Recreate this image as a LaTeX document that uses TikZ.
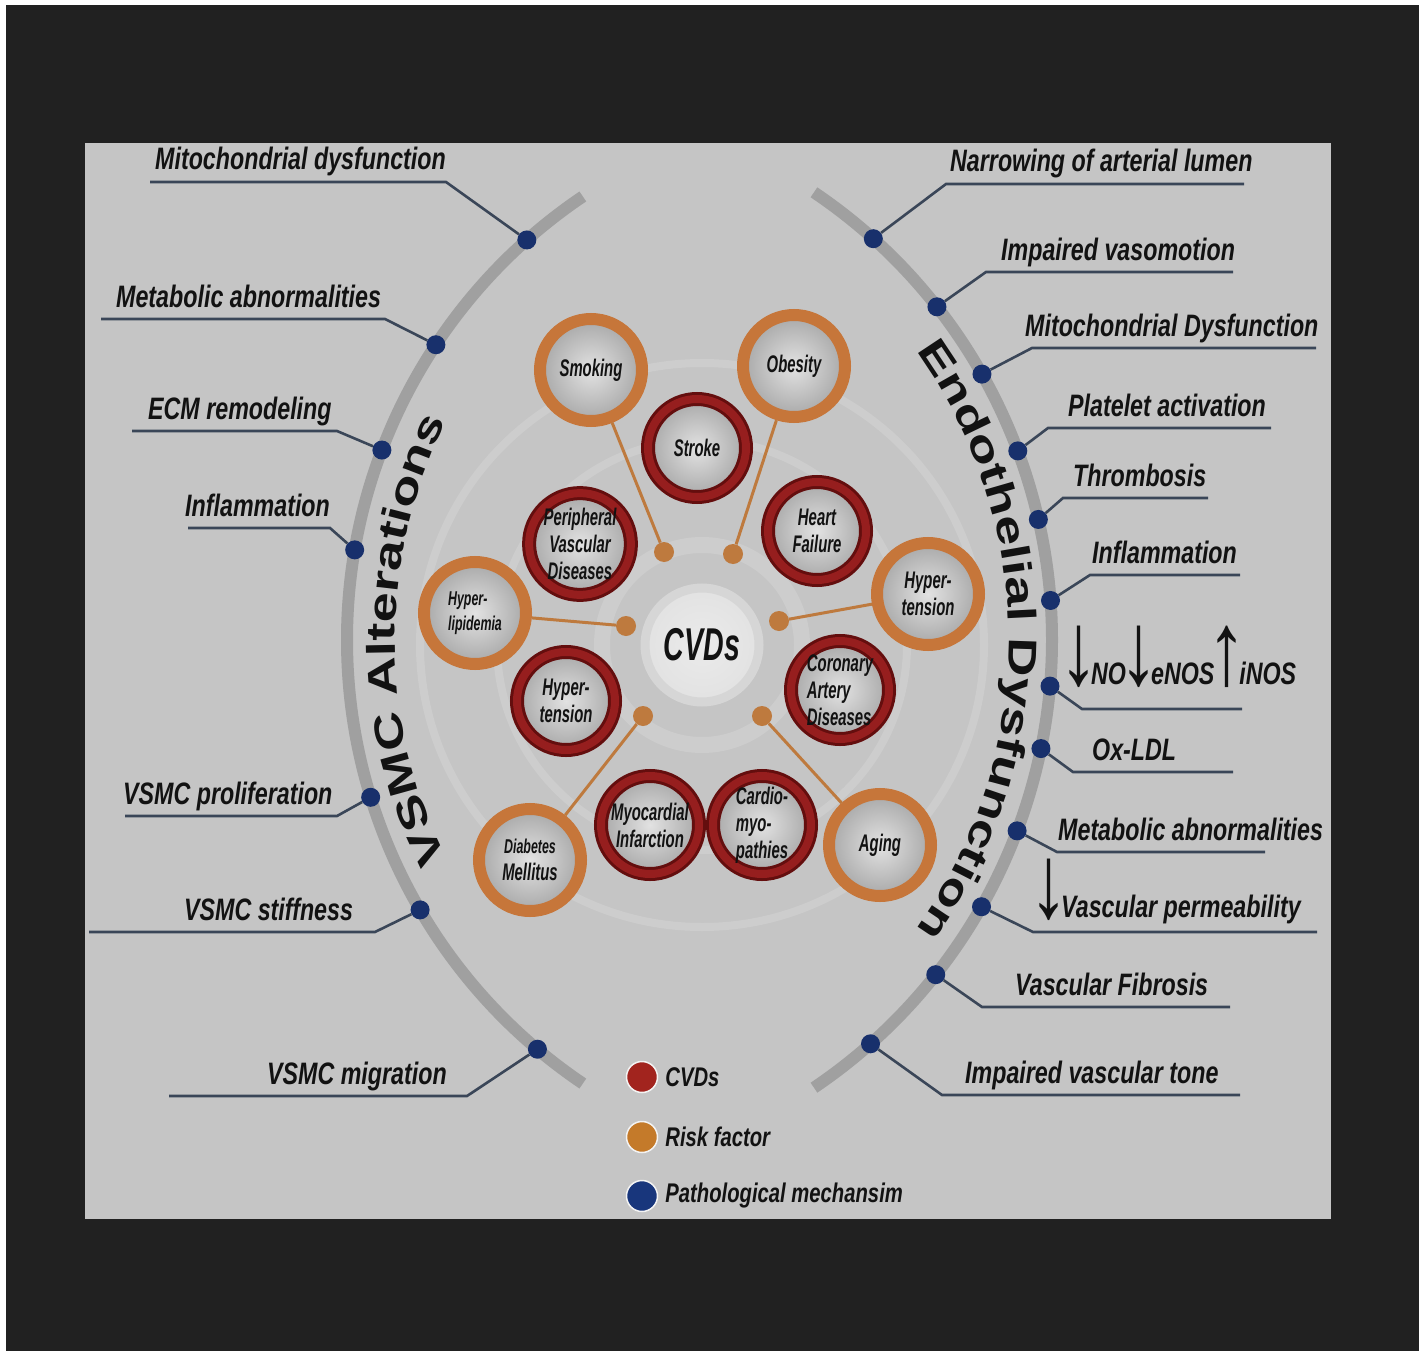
\documentclass[tikz,border=0pt]{standalone}
\usepackage{fontspec}
\setmainfont{Liberation Sans}
\newfontfamily\labfont[FakeStretch=0.75]{Liberation Sans}
\newfontfamily\ringfont[FakeStretch=0.62]{Liberation Sans}
\newfontfamily\arcfont[FakeStretch=1.35]{Liberation Sans}
\usetikzlibrary{positioning,decorations.text}

\definecolor{framec}{RGB}{33,33,33}
\definecolor{panelc}{RGB}{197,197,197}
\definecolor{bandc}{RGB}{160,160,160}
\definecolor{mblue}{RGB}{24,48,108}
\definecolor{leadc}{RGB}{58,70,88}
\definecolor{riskor}{RGB}{198,118,58}
\definecolor{linkor}{RGB}{190,122,62}
\definecolor{cvdred}{RGB}{150,30,30}
\definecolor{cvddark}{RGB}{100,14,14}
\definecolor{fillin}{RGB}{226,226,226}
\definecolor{fillout}{RGB}{168,168,168}
\definecolor{hubring}{RGB}{214,214,214}
\definecolor{txtdark}{RGB}{18,18,18}
\definecolor{legred}{RGB}{162,36,30}
\definecolor{legor}{RGB}{196,122,42}
\definecolor{legblue}{RGB}{24,54,124}

\newcommand{\updown}[1]{\makebox[25pt][c]{\labfont\upshape\fontsize{104}{104}\selectfont #1}}

\begin{document}
\begin{tikzpicture}[x=1pt, y=1pt]
		\tikzstyle{risk}=[circle, minimum size=102pt, inner sep=0pt, line width=12pt, draw=riskor, inner color=fillin, outer color=fillout, align=center, text=txtdark, font=\ringfont\bfseries\itshape\fontsize{24}{27}\selectfont]
		\tikzstyle{cvd}=[circle, minimum size=98pt, inner sep=0pt, line width=3pt, draw=cvddark, double=cvdred, double distance=8pt, inner color=fillin, outer color=fillout, align=center, text=txtdark, font=\ringfont\bfseries\itshape\fontsize{24}{27}\selectfont]
		\tikzstyle{hub}=[circle, minimum size=114pt, inner sep=0pt, line width=9pt, draw=hubring, inner color=white!92!black, outer color=fillin, text=txtdark, font=\ringfont\bfseries\itshape\fontsize{46}{46}\selectfont]
		\tikzstyle{knot}=[circle, fill=linkor, minimum size=20pt, inner sep=0pt]
		\tikzstyle{link}=[draw=linkor, line width=3pt]
		\tikzstyle{mdot}=[circle, fill=mblue, minimum size=19pt, inner sep=0pt]
		\tikzstyle{lead}=[draw=leadc, line width=2.6pt]
		\tikzstyle{mlab}=[anchor=base west, inner sep=0pt, text=txtdark, font=\labfont\bfseries\itshape\fontsize{31}{34}\selectfont]
		\tikzstyle{band}=[draw=bandc, line width=12pt]
		\tikzstyle{bgring}=[draw=white, opacity=0.14]
		\tikzstyle{legdot}=[circle, minimum size=31pt, inner sep=0pt, draw=white!80!panelc, line width=1.5pt]
		\tikzstyle{legtxt}=[inner sep=0pt, text=txtdark, font=\labfont\bfseries\itshape\fontsize{27}{30}\selectfont]

		\useasboundingbox (0,0) rectangle (1419,-1351);
		\fill[white] (0,0) rectangle (1419,-1351);
		\fill[framec] (6,-5) rectangle (1419,-1351);
		\fill[panelc] (85,-143) rectangle (1331,-1219);

		\coordinate (lc) at (882,-640);
		\coordinate (rc) at (512,-640);
		\coordinate (mid) at (702,-645);

		% faint rings behind the circles
		\draw[bgring, line width=16pt] (mid) circle[radius=100];
		\draw[bgring, line width=8pt] (mid) circle[radius=205];
		\draw[bgring, line width=8pt] (mid) circle[radius=282];

		% the two arcs
		\draw[band] ([shift={(lc)}]124:535) arc[start angle=124, end angle=236, radius=535];
		\draw[band] ([shift={(rc)}]56:540) arc[start angle=56, end angle=-56, radius=540];

		\path[decorate, decoration={text along path, text align=center, text color=txtdark,
			text={|\arcfont\bfseries\fontsize{40}{40}\selectfont|VSMC Alterations}}]
			([shift={(lc)}]215:487) arc[start angle=215, end angle=145, radius=487];
		\path[decorate, decoration={text along path, text align=center, text color=txtdark,
			text={|\arcfont\bfseries\fontsize{40}{40}\selectfont|Endothelial Dysfunction}}]
			([shift={(rc)}]50:497) arc[start angle=50, end angle=-50, radius=497];

		% centre
		\node[hub] (cvds) at (mid) {CVDs};
		\node[risk] (smoking) at (591,-370) {Smoking};
		\node[risk] (obesity) at (794,-366) {Obesity};
		\node[risk, font=\ringfont\bfseries\itshape\fontsize{20}{25}\selectfont, align=left] (hyperlip) at (475,-613) {Hyper-\\lipidemia};
		\node[risk] (hypertR) at (928,-594) {Hyper-\\tension};
		\node[risk] (diabetes) at (530,-860) {{\fontsize{20}{24}\selectfont Diabetes}\\Mellitus};
		\node[risk] (aging) at (880,-845) {Aging};
		\node[cvd] (stroke) at (697,-448) {Stroke};
		\node[cvd] (heartf) at (817,-531) {Heart\\Failure};
		\node[cvd] (pvd) at (580,-544) {Peripheral\\Vascular\\Diseases};
		\node[cvd] (hypertL) at (566,-701) {Hyper-\\tension};
		\node[cvd, align=left] (cad) at (840,-690) {Coronary\\Artery\\Diseases};
		\node[cvd] (mi) at (650,-825) {Myocardial\\Infarction};
		\node[cvd, align=left] (cardio) at (762,-825) {Cardio-\\myo-\\pathies};

		\node[knot] (ksmoking) at (664,-552) {};
		\node[knot] (kobesity) at (733,-554) {};
		\node[knot] (khyperlip) at (626,-626) {};
		\node[knot] (khypert) at (779,-621) {};
		\node[knot] (kdiabetes) at (643,-716) {};
		\node[knot] (kaging) at (762,-716) {};
		\path
		(smoking) edge [link] (ksmoking)
		(obesity) edge [link] (kobesity)
		(hyperlip) edge [link] (khyperlip)
		(hypertR) edge [link] (khypert)
		(diabetes) edge [link] (kdiabetes)
		(aging) edge [link] (kaging)
		;

		% VSMC side
		\node[mdot] (l1) at ([shift={(lc)}]131.6:535) {};
		\node[mdot] (l2) at ([shift={(lc)}]146.5:535) {};
		\node[mdot] (l3) at ([shift={(lc)}]159.2:535) {};
		\node[mdot] (l4) at ([shift={(lc)}]170.3:535) {};
		\node[mdot] (l5) at ([shift={(lc)}]197.1:535) {};
		\node[mdot] (l6) at ([shift={(lc)}]210.3:535) {};
		\node[mdot] (l7) at ([shift={(lc)}]229.9:535) {};
		\coordinate (l1c) at (446,-182); \coordinate (l1e) at (150,-182);
		\coordinate (l2c) at (385,-319); \coordinate (l2e) at (101,-319);
		\coordinate (l3c) at (337,-431); \coordinate (l3e) at (132,-431);
		\coordinate (l4c) at (330,-528); \coordinate (l4e) at (188,-528);
		\coordinate (l5c) at (337,-816); \coordinate (l5e) at (125,-816);
		\coordinate (l6c) at (375,-932); \coordinate (l6e) at (89,-932);
		\coordinate (l7c) at (467,-1096); \coordinate (l7e) at (169,-1096);
		\draw[lead] (l1) -- (l1c) -- (l1e);
		\draw[lead] (l2) -- (l2c) -- (l2e);
		\draw[lead] (l3) -- (l3c) -- (l3e);
		\draw[lead] (l4) -- (l4c) -- (l4e);
		\draw[lead] (l5) -- (l5c) -- (l5e);
		\draw[lead] (l6) -- (l6c) -- (l6e);
		\draw[lead] (l7) -- (l7c) -- (l7e);
		\node[mlab] (tl1) at (155,-170) {Mitochondrial dysfunction};
		\node[mlab] (tl2) at (116,-307) {Metabolic abnormalities};
		\node[mlab] (tl3) at (148,-419) {ECM remodeling};
		\node[mlab] (tl4) at (185,-516) {Inflammation};
		\node[mlab] (tl5) at (123,-804) {VSMC proliferation};
		\node[mlab] (tl6) at (184,-920) {VSMC stiffness};
		\node[mlab] (tl7) at (267,-1084) {VSMC migration};

		% endothelial side
		\node[mdot] (r1) at ([shift={(rc)}]48.0:540) {};
		\node[mdot] (r2) at ([shift={(rc)}]38.1:540) {};
		\node[mdot] (r3) at ([shift={(rc)}]29.5:540) {};
		\node[mdot] (r4) at ([shift={(rc)}]20.5:540) {};
		\node[mdot] (r5) at ([shift={(rc)}]12.9:540) {};
		\node[mdot] (r6) at ([shift={(rc)}]4.2:540) {};
		\node[mdot] (r7) at ([shift={(rc)}]-4.9:540) {};
		\node[mdot] (r8) at ([shift={(rc)}]-11.6:540) {};
		\node[mdot] (r9) at ([shift={(rc)}]-20.7:540) {};
		\node[mdot] (r10) at ([shift={(rc)}]-29.6:540) {};
		\node[mdot] (r11) at ([shift={(rc)}]-38.3:540) {};
		\node[mdot] (r12) at ([shift={(rc)}]-48.4:540) {};
		\coordinate (r1c) at (946,-184); \coordinate (r1e) at (1244,-184);
		\coordinate (r2c) at (986,-272); \coordinate (r2e) at (1233,-272);
		\coordinate (r3c) at (1032,-348); \coordinate (r3e) at (1316,-348);
		\coordinate (r4c) at (1048,-428); \coordinate (r4e) at (1271,-428);
		\coordinate (r5c) at (1063,-498); \coordinate (r5e) at (1208,-498);
		\coordinate (r6c) at (1090,-575); \coordinate (r6e) at (1240,-575);
		\coordinate (r7c) at (1082,-709); \coordinate (r7e) at (1242,-709);
		\coordinate (r8c) at (1073,-772); \coordinate (r8e) at (1233,-772);
		\coordinate (r9c) at (1057,-852); \coordinate (r9e) at (1265,-852);
		\coordinate (r10c) at (1033,-932); \coordinate (r10e) at (1317,-932);
		\coordinate (r11c) at (982,-1007); \coordinate (r11e) at (1230,-1007);
		\coordinate (r12c) at (942,-1095); \coordinate (r12e) at (1240,-1095);
		\draw[lead] (r1) -- (r1c) -- (r1e);
		\draw[lead] (r2) -- (r2c) -- (r2e);
		\draw[lead] (r3) -- (r3c) -- (r3e);
		\draw[lead] (r4) -- (r4c) -- (r4e);
		\draw[lead] (r5) -- (r5c) -- (r5e);
		\draw[lead] (r6) -- (r6c) -- (r6e);
		\draw[lead] (r7) -- (r7c) -- (r7e);
		\draw[lead] (r8) -- (r8c) -- (r8e);
		\draw[lead] (r9) -- (r9c) -- (r9e);
		\draw[lead] (r10) -- (r10c) -- (r10e);
		\draw[lead] (r11) -- (r11c) -- (r11e);
		\draw[lead] (r12) -- (r12c) -- (r12e);
		\node[mlab] (tr1) at (950,-172) {Narrowing of arterial lumen};
		\node[mlab] (tr2) at (1001,-260) {Impaired vasomotion};
		\node[mlab] (tr3) at (1025,-336) {Mitochondrial Dysfunction};
		\node[mlab] (tr4) at (1068,-416) {Platelet activation};
		\node[mlab] (tr5) at (1073,-486) {Thrombosis};
		\node[mlab] (tr6) at (1092,-563) {Inflammation};
		\node[mlab] (tr7) at (1066,-684) {\updown{↓}NO\updown{↓}eNOS\updown{↑}iNOS};
		\node[mlab] (tr8) at (1092,-760) {Ox-LDL};
		\node[mlab] (tr9) at (1058,-840) {Metabolic abnormalities};
		\node[mlab] (tr10) at (1036,-917) {\updown{↓}Vascular permeability};
		\node[mlab] (tr11) at (1015,-995) {Vascular Fibrosis};
		\node[mlab] (tr12) at (965,-1083) {Impaired vascular tone};

		% legend
		\node[legdot, fill=legred] (lgcvd) at (642,-1077) {};
		\node[legdot, fill=legor] (lgrisk) at (642,-1137) {};
		\node[legdot, fill=legblue] (lgmech) at (642,-1196) {};
		\node[legtxt, right=7pt of lgcvd] (lgcvdt) {CVDs};
		\node[legtxt, right=7pt of lgrisk] (lgriskt) {Risk factor};
		\node[legtxt, right=7pt of lgmech] (lgmecht) {Pathological mechansim};
	\end{tikzpicture}
\end{document}
